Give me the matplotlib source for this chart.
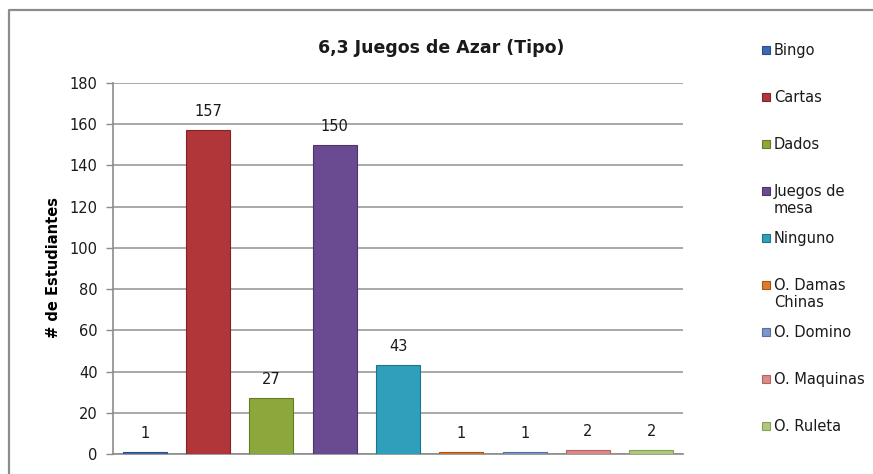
import matplotlib
matplotlib.use("Agg")
import matplotlib.pyplot as plt
from matplotlib.lines import Line2D
from matplotlib.patches import Rectangle
from matplotlib.transforms import Affine2D

# --- Data ---
categorias = ["Bingo", "Cartas", "Dados", "Juegos de\nmesa", "Ninguno",
              "O. Damas\nChinas", "O. Domino", "O. Maquinas", "O. Ruleta"]
estudiantes = [1, 157, 27, 150, 43, 1, 1, 2, 2]
colores = ["#3C6AB0", "#B0363A", "#8CA83C", "#6A4B91", "#2FA0BC",
           "#E0782E", "#7C97CB", "#DA8A88", "#AEC97A"]
bordes = ["#2A4F86", "#7E2427", "#667C26", "#4C3569", "#1F7489",
          "#A85618", "#5870A0", "#B06664", "#86A056"]
y_ticks = list(range(0, 181, 20))

W, H = 873, 474
fig = plt.figure(figsize=(W / 100, H / 100), dpi=100)
px = Affine2D().scale(1 / W, 1 / H) + fig.transFigure  # pixel coords, origin bottom-left

# outer chart frame (left and top only, rest cut off)
fig.add_artist(Line2D([9, 9, W], [0, H - 10, H - 10], transform=px,
                      color="#8C8C8C", lw=1.6))

ax = fig.add_axes([113 / W, 1 - 454 / H, (683 - 113) / W, (454 - 83) / H])
x = list(range(len(categorias)))
ax.bar(x, estudiantes, width=0.69, color=colores, edgecolor=bordes,
       linewidth=0.8, zorder=3)

for xi, v in zip(x, estudiantes):
    ax.annotate(str(v), (xi, v), xytext=(0, 8), textcoords="offset points",
                ha="center", va="bottom", fontsize=10.5, color="#1A1A1A")

ax.set_xlim(-0.5, len(categorias) - 0.5)
ax.set_ylim(0, 180)
ax.set_yticks(y_ticks)
ax.set_xticks([])
ax.tick_params(axis="y", length=5, width=1, color="#8C8C8C",
               labelsize=10.5, labelcolor="#1A1A1A", pad=6)
ax.grid(axis="y", color="#9A9A9A", lw=1.2, zorder=0)
for s in ["top", "right"]:
    ax.spines[s].set_visible(False)
for s in ["left", "bottom"]:
    ax.spines[s].set_color("#8C8C8C")
    ax.spines[s].set_linewidth(1.2)
ax.set_ylabel("# de Estudiantes", fontsize=10.5, fontweight="bold",
              va="center")
ax.yaxis.set_label_coords(54 / W, 1 - 267 / H, transform=fig.transFigure)

fig.text(318 / W, 1 - 48 / H, "6,3 Juegos de Azar (Tipo)", ha="left",
         va="center", fontsize=12.5, fontweight="bold", color="#1A1A1A")

# legend drawn by hand: equal spacing, marker aligned with first line
for i, (lab, c, b) in enumerate(zip(categorias, colores, bordes)):
    y = H - (50 + 47 * i)
    fig.add_artist(Rectangle((762, y - 4), 8, 8, transform=px,
                             facecolor=c, edgecolor=b, lw=0.8))
    fig.text(774 / W, (y + 7) / H, lab, ha="left", va="top",
             fontsize=10.5, color="#1A1A1A", linespacing=1.15)

fig.savefig("out.png", dpi=100)
